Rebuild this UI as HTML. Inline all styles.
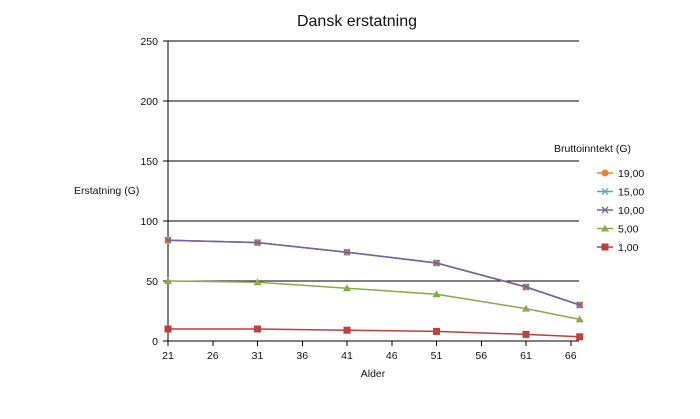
<!DOCTYPE html>
<html><head><meta charset="utf-8"><style>
body{margin:0;background:#fff;}
svg text{font-family:"Liberation Sans",sans-serif;fill:#111;}
</style></head><body>
<svg id="c" width="700" height="414">
<text x="357" y="26" font-size="16" text-anchor="middle">Dansk erstatning</text>
<text x="74" y="194" font-size="10.5">Erstatning (G)</text>
<text x="373" y="377" font-size="10.5" text-anchor="middle">Alder</text>
<text x="554" y="152" font-size="10.5">Bruttoinntekt (G)</text>
<g id="grid" shape-rendering="crispEdges"></g><g id="series"></g><g id="legend"></g>
</svg>
<script>
const ages=[21,31,41,51,61,67];
const s19=[84,82,74,65,45,30];
const s15=[84,82,74,65,45,30];
const s10=[84,82,74,65,45,30];
const s5=[50,49,44,39,27,18];
const s1=[10,10,9,8,5.5,3.5];
const yTicks=[0,50,100,150,200,250];
const xTicks=[21,26,31,36,41,46,51,56,61,66];
const seriesNames=["19,00","15,00","10,00","5,00","1,00"];
const NS="http://www.w3.org/2000/svg";
const X=v=>168+(v-21)*8.95, Y=v=>341-v*1.2;
function mk(t,a,p){const e=document.createElementNS(NS,t);for(const k in a)e.setAttribute(k,a[k]);p.appendChild(e);return e;}
const g=document.getElementById('grid');
yTicks.forEach(v=>{
 if(v>0){const l=mk('line',{x1:168,x2:579,y1:Y(v),y2:Y(v),stroke:'#000','stroke-width':1},g);
 
 }
 const tk=mk('line',{x1:163,x2:168,y1:Y(v),y2:Y(v),stroke:'#000'},g);
 
 
 const t=mk('text',{x:158,y:Y(v)+4,'font-size':10.5,'text-anchor':'end'},g);t.textContent=v;
 
 
});
const ax=mk('line',{x1:168,x2:168,y1:41,y2:341,stroke:'#000'},g);


const bx=mk('line',{x1:168,x2:579,y1:341,y2:341,stroke:'#000'},g);


xTicks.forEach(v=>{
 const tk=mk('line',{x1:X(v),x2:X(v),y1:341,y2:346,stroke:'#000'},g);
 
 
 const t=mk('text',{x:X(v),y:359,'font-size':10.5,'text-anchor':'middle'},g);t.textContent=v;
 
 
});
function marker(type,x,y,c,p){
 if(type==='circle')return mk('circle',{cx:x,cy:y,r:3.5,fill:c},p);
 if(type==='square')return mk('rect',{x:x-3.5,y:y-3.5,width:7,height:7,fill:c},p);
 if(type==='tri')return mk('polygon',{points:`${x},${y-4} ${x-4},${y+3} ${x+4},${y+3}`,fill:c},p);
 return mk('path',{d:`M${x-3},${y-3}L${x+3},${y+3}M${x-3},${y+3}L${x+3},${y-3}`,stroke:c,'stroke-width':1.3},p);
}
const defs=[[s19,'#e8822e','circle'],[s15,'#4bacc6','x'],[s10,'#7d60a0','x'],[s5,'#8aab46','tri'],[s1,'#bf3f3c','square']];
const sg=document.getElementById('series'),lg=document.getElementById('legend');
[0,1,2,4,3].forEach(i=>{
 const [d,c,m]=defs[i];
 const grp=mk('g',{},sg);
 
 
 mk('polyline',{points:d.map((v,j)=>X(ages[j])+','+Y(v)).join(' '),fill:'none',stroke:c,'stroke-width':1.5},grp);
 d.forEach((v,j)=>{const mm=marker(m,X(ages[j]),Y(v),c,grp);
  
  });
});
defs.forEach(([d,c,m],i)=>{
 const y=173+i*18.5;
 const e=mk('g',{},lg);
 
 
 mk('line',{x1:597,x2:613,y1:y,y2:y,stroke:c,'stroke-width':1.5},e);
 marker(m,605,y,c,e);
 const t=mk('text',{x:618,y:y+4,'font-size':10.5},e);t.textContent=seriesNames[i];
});
</script>
</body></html>
